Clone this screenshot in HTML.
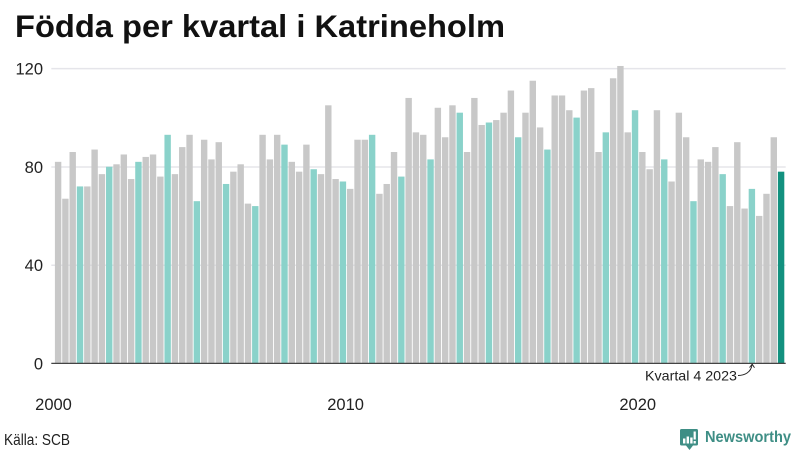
<!DOCTYPE html>
<html lang="sv">
<head>
<meta charset="utf-8">
<title>Födda per kvartal i Katrineholm</title>
<style>
html,body{margin:0;padding:0;background:#fff;}
svg{display:block;font-family:"Liberation Sans",Arial,sans-serif;}
</style>
</head>
<body>
<svg id="chart" width="800" height="450" viewBox="0 0 800 450" xmlns="http://www.w3.org/2000/svg">
  <text x="15" y="37" font-size="31.5" font-weight="700" fill="#111" textLength="490" lengthAdjust="spacingAndGlyphs">Födda per kvartal i Katrineholm</text>
  <g id="grid"></g>
  <g id="bars"></g>
  <line x1="51.3" x2="785.7" y1="363.4" y2="363.4" stroke="#444" stroke-width="1.2"></line>
  <g id="yticks"></g>
  <g id="xticks"></g>
  <text x="645" y="380.5" font-size="14" fill="#222" textLength="92" lengthAdjust="spacingAndGlyphs">Kvartal 4 2023</text>
  <path d="M738 375.5 C745 375.5 751 372 752 365" fill="none" stroke="#222" stroke-width="0.9"></path>
  <path d="M749.5 367.5 L752.2 364.2 L754.5 367.8" fill="none" stroke="#222" stroke-width="0.9"></path>
  <text x="4" y="445" font-size="15.5" fill="#222" textLength="66" lengthAdjust="spacingAndGlyphs">Källa: SCB</text>
  <g>
    <path d="M681.5 429 H696.5 Q698 429 698 430.5 V444 Q698 445.5 696.5 445.5 H693 L689.5 450 L686 445.5 H681.5 Q680 445.5 680 444 V430.5 Q680 429 681.5 429 Z" fill="#3e8e85"></path>
    <rect x="683" y="438.5" width="2.4" height="5" fill="#fff"></rect>
    <rect x="686.6" y="436.5" width="2.4" height="7" fill="#fff"></rect>
    <rect x="690.2" y="437.5" width="2.4" height="6" fill="#fff"></rect>
    <rect x="693.6" y="431.5" width="2.2" height="8" fill="#fff"></rect>
    <rect x="693.6" y="441" width="2.2" height="2.5" fill="#fff"></rect>
    <text x="705" y="442" font-size="16" font-weight="700" fill="#3e8e85" textLength="86" lengthAdjust="spacingAndGlyphs">Newsworthy</text>
  </g>
</svg>
<script>
const births = [
  82,67,86,72, 72,87,77,80, 81,85,75,82, 84,85,76,93, 77,88,93,66,
  91,83,90,73, 78,81,65,64, 93,83,93,89, 82,78,89,79, 77,105,75,74,
  71,91,91,93, 69,73,86,76, 108,94,93,83, 104,92,105,102, 86,108,97,98,
  99,102,111,92, 102,115,96,87, 109,109,103,100, 111,112,86,94, 116,121,94,103,
  86,79,103,83, 74,102,92,66, 83,82,88,77, 64,90,63,71, 60,69,92,78
];
const highlightQuarter = 4;
const firstYear = 2000;
const yTickValues = [0, 40, 80, 120];
const xTickYears = [2000, 2010, 2020];

const NS = 'http://www.w3.org/2000/svg';
function x(i) { return 54.9 + i * 7.303; }
function y(v) { return 363.4 - v * 2.458; }
function yearIndex(year) { return (year - firstYear) * 4; }
function make(tag, attrs, parent) {
  const el = document.createElementNS(NS, tag);
  for (const k in attrs) el.setAttribute(k, attrs[k]);
  parent.appendChild(el);
  return el;
}

const gridG = document.getElementById('grid');
const barsG = document.getElementById('bars');
const yG = document.getElementById('yticks');
const xG = document.getElementById('xticks');

yTickValues.forEach(function (v) {
  if (v !== 0) {
    const gl = make('line', {x1: 51.3, x2: 785.7, y1: y(v) + 0.2, y2: y(v) + 0.2, stroke: '#e5e5ea', 'stroke-width': 1.5}, gridG);
    
    
  }
  const t = make('text', {x: 43, y: y(v) + 6, 'text-anchor': 'end', 'font-size': 16.5, fill: '#222'}, yG);
  t.textContent = v;
  
  
});

xTickYears.forEach(function (yr) {
  const t = make('text', {x: x(yearIndex(yr)) - 1.4, y: 410, 'text-anchor': 'middle', 'font-size': 16.5, fill: '#222'}, xG);
  t.textContent = yr;
  
  
});

births.forEach(function (v, i) {
  const isQ = (i % 4) === highlightQuarter - 1;
  const isLast = i === births.length - 1;
  const fill = isLast ? '#13917f' : (isQ ? '#8ad2ca' : '#c8c8c8');
  const r = make('rect', {x: x(i), y: y(v), width: 6.4, height: 363.4 - y(v), fill: fill}, barsG);
  
  
});
</script>
</body>
</html>
